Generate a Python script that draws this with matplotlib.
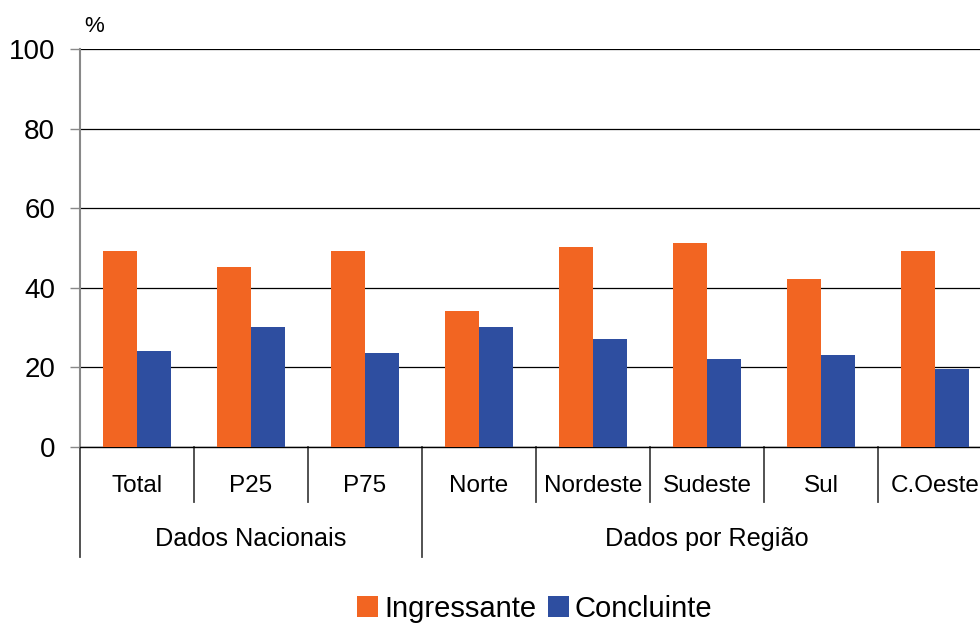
import matplotlib
matplotlib.use("Agg")
import matplotlib.pyplot as plt
import numpy as np

plt.rcParams["font.family"] = ["Liberation Sans", "DejaVu Sans"]

categories = ["Total", "P25", "P75", "Norte", "Nordeste", "Sudeste", "Sul", "C.Oeste"]
groups = ["Dados Nacionais", "Dados por Região"]
group_sizes = [3, 5]
ingressante = [49.2, 45.2, 49.2, 34.2, 50.3, 51.3, 42.2, 49.2]
concluinte = [24.1, 30.2, 23.6, 30.2, 27.1, 22.1, 23.1, 19.6]
yticks = [0, 20, 40, 60, 80, 100]

ORANGE = "#F26522"
BLUE = "#2E4EA0"

fig = plt.figure(figsize=(9.8, 6.23), dpi=100)
ax = fig.add_axes([80 / 980, (623 - 447) / 623, 912 / 980, 398 / 623])

x = np.arange(len(categories))
w = 0.295
ax.bar(x - w / 2, ingressante, width=w, color=ORANGE, label="Ingressante", zorder=3)
ax.bar(x + w / 2, concluinte, width=w, color=BLUE, label="Concluinte", zorder=3)

ax.set_xlim(-0.5, len(categories) - 0.5)
ax.set_ylim(0, 100)
ax.set_yticks(yticks)
ax.set_yticklabels([str(t) for t in yticks], fontsize=20)
ax.tick_params(axis="y", length=7, width=1, color="#888888", pad=11)
ax.set_xticks([])
ax.yaxis.grid(True, color="black", linewidth=0.9)
ax.set_axisbelow(True)
for s in ("top", "right"):
    ax.spines[s].set_visible(False)
ax.spines["left"].set_color("#888888")
ax.spines["left"].set_linewidth(1.5)
ax.spines["bottom"].set_color("black")
ax.spines["bottom"].set_linewidth(1)

ax.text(0.005, 1.03, "%", transform=ax.transAxes, fontsize=16, ha="left", va="bottom")

# category labels and separators
tr = ax.get_xaxis_transform()
for i, c in enumerate(categories):
    ax.text(i, -0.097, c, transform=tr, ha="center", va="center", fontsize=17.5)

group_edges = np.cumsum([0] + group_sizes) - 0.5
for b in np.arange(len(categories) + 1) - 0.5:
    low = -0.276 if b in group_edges else -0.138
    ax.plot([b, b], [0, low], transform=tr, color="#444444", linewidth=1.3, clip_on=False)

for g, start, size in zip(groups, group_edges[:-1], group_sizes):
    ax.text(start + size / 2, -0.232, g, transform=tr, ha="center", va="center", fontsize=18.2)

fig.legend(loc="center", bbox_to_anchor=(535 / 980, (623 - 609) / 623), ncol=2, frameon=False,
           fontsize=21, handlelength=0.72, handleheight=0.72, handletextpad=0.2,
           columnspacing=0.4, borderpad=0)

fig.savefig("out.png", dpi=100)
